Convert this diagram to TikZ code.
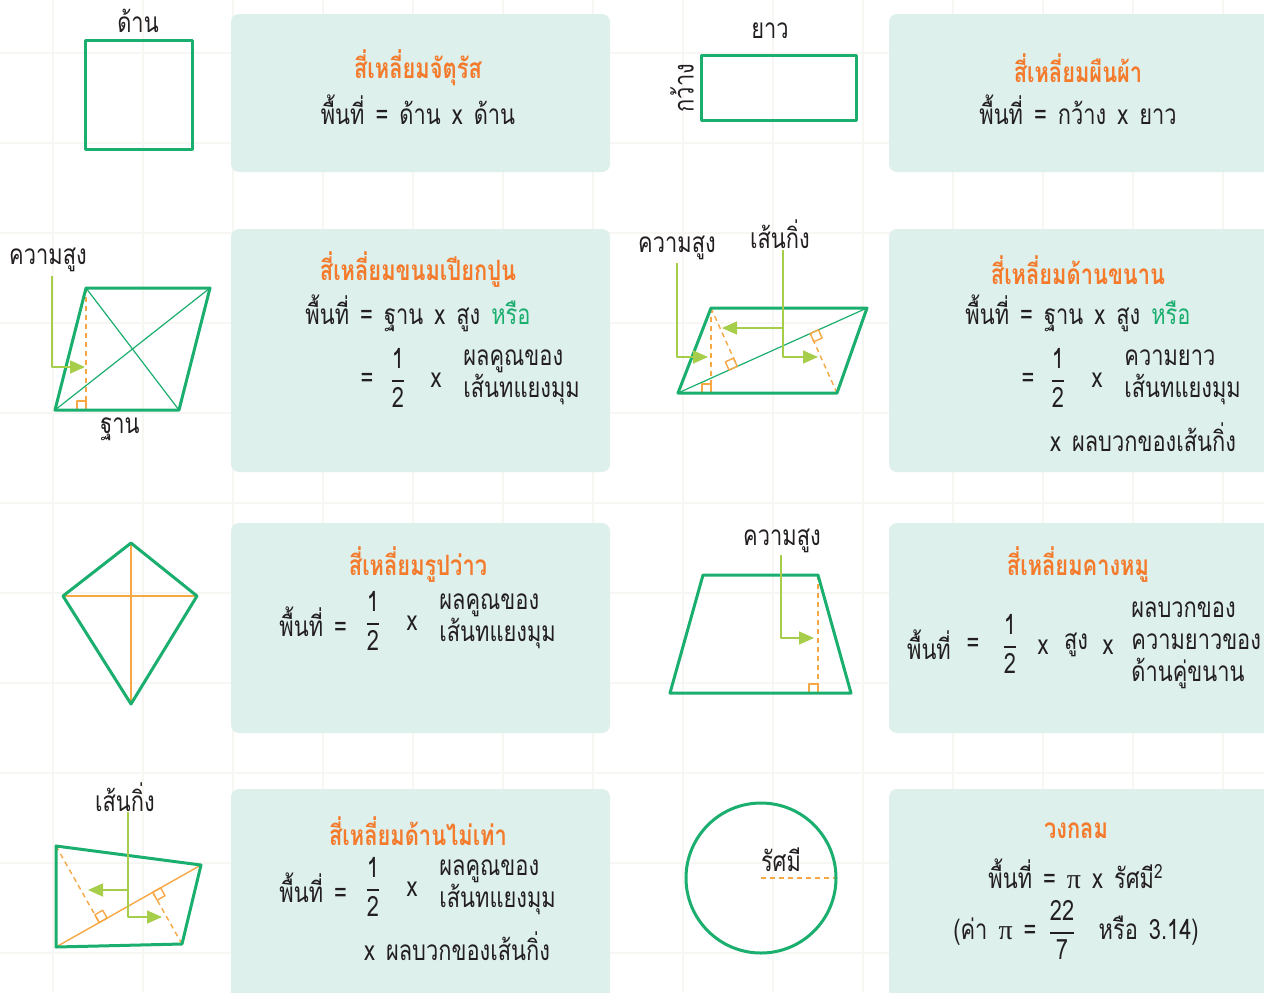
\documentclass[tikz,border=0pt]{standalone}
\usepackage{fontspec}
\usepackage{amsmath}
\newfontfamily\thaifont[Script=Thai, FakeStretch=0.78, WordSpace=1.5]{Loma}
\newfontfamily\pifont{Liberation Serif}
\usetikzlibrary{arrows.meta, calc, positioning}
\definecolor{mGreen}{HTML}{1AAE6F}
\definecolor{mCard}{HTML}{DDF0EC}
\definecolor{mOrange}{HTML}{F47A2C}
\definecolor{mDash}{HTML}{F7A845}
\definecolor{mLime}{HTML}{A6CE4A}
\definecolor{mInk}{HTML}{231F20}
\definecolor{mGrid}{HTML}{F8F6F2}
\tikzset{
  % shape outlines, helper lines and text
  every picture/.append style = {line join=round},
  outline/.style  = {mGreen, line width=1.5pt},
  diag/.style     = {mGreen, line width=0.6pt},
  cross/.style    = {mDash, line width=0.7pt},
  hgt/.style      = {mDash, line width=0.7pt, dash pattern=on 2.5pt off 2pt},
  hgtbox/.style   = {mDash, line width=0.7pt},
  leader/.style   = {mLime, line width=0.8pt, -{Triangle[length=7.5pt, width=6.5pt]}},
  card/.style     = {fill=mCard, rounded corners=4pt},
  gridline/.style = {mGrid, line width=1pt},
  title/.style    = {font=\thaifont\bfseries\fontsize{14}{16}\selectfont, text=mOrange},
  body/.style     = {font=\thaifont\fontsize{14}{16}\selectfont, text=mInk},
  stack/.style    = {body, align=left, inner sep=0pt},
  lbl/.style      = {font=\thaifont\fontsize{14}{16}\selectfont, text=mInk},
}
\newcommand{\half}[2]{$\genfrac{}{}{0.8pt}{0}{\mbox{#1}}{\mbox{#2}}$}
\newcommand{\rmark}[3]{%
  \coordinate (rm1) at ($(#1)!4.5pt!(#2)$);
  \coordinate (rm2) at ($(#1)!4.5pt!(#3)$);
  \draw[hgtbox] (#1) -- (rm1) -- ($(rm1)+(rm2)-(#1)$) -- (rm2) -- cycle;}
\begin{document}
\begin{tikzpicture}[x=0.5pt, y=-0.5pt]
  \useasboundingbox (0,0) rectangle (1264,992);
  % background grid
  \fill[white] (0,0) rectangle (1264,992);
  \foreach \g in {0,...,13}
    \draw[gridline] (53+90*\g,0) -- (53+90*\g,992);
  \foreach \g in {0,...,10}
    \draw[gridline] (0,53+90*\g) -- (1264,53+90*\g);
  % formula cards
  \foreach \t/\b in {14/172, 229/472, 523/733, 789/1010} {
    \fill[card] (231,\t) rectangle (610,\b);
    \fill[card] (889,\t) rectangle (1290,\b);
  }

  % square
  \draw[outline] (85,40) rectangle (192,149);
  \node[lbl] (sqSide) at (138,21) {ด้าน};
  \node[title] (sqTitle) at (418,68) {สี่เหลี่ยมจัตุรัส};
  \node[body] (sqArea) at (418,110) {พื้นที่ = ด้าน x ด้าน};

  % rectangle
  \draw[outline] (701,55) rectangle (856,120);
  \node[lbl] (rcLong) at (770,31) {ยาว};
  \node[lbl, rotate=90] (rcWide) at (682,88) {กว้าง};
  \node[title] (rcTitle) at (1078,68) {สี่เหลี่ยมผืนผ้า};
  \node[body] (rcArea) at (1078,110) {พื้นที่ = กว้าง x ยาว};

  % rhombus
  \coordinate (rhA) at (86,288);
  \coordinate (rhB) at (210,288);
  \coordinate (rhC) at (179,410);
  \coordinate (rhD) at (55,410);
  \coordinate (rhF) at (rhA |- rhD);
  \draw[diag] (rhA) -- (rhC) (rhD) -- (rhB);
  \draw[hgt] (rhA) -- (rhF);
  \rmark{rhF}{rhD}{rhA}
  \draw[outline] (rhA) -- (rhB) -- (rhC) -- (rhD) -- cycle;
  \node[lbl] (rhH) at (48,260) {ความสูง};
  \node[lbl] (rhBase) at (120,429) {ฐาน};
  \coordinate (rhHs) at (52,276);
  \coordinate (rhHt) at (85,367);
  \draw[leader] (rhHs) |- (rhHt);
  \node[title] (rhTitle) at (418,270) {สี่เหลี่ยมขนมเปียกปูน};
  \node[body] (rhArea) at (418,313) {พื้นที่ = ฐาน x สูง \textcolor{mGreen}{หรือ}};
  \node[body] (rhEq) at (367,380) {=};
  \node[body] (rhFrac) at (398,378) {\half{1}{2}};
  \node[body] (rhX) at (436,380) {x};
  \node[stack, anchor=west] (rhDiag) at (463,377) {ผลคูณของ\\เส้นทแยงมุม};

  % parallelogram
  \coordinate (pgA) at (711,308);
  \coordinate (pgB) at (867,308);
  \coordinate (pgC) at (837,393);
  \coordinate (pgD) at (678,393);
  \coordinate (pgF) at (pgA |- pgD);
  \coordinate (pgG) at ($(pgD)!(pgA)!(pgB)$);
  \coordinate (pgK) at ($(pgD)!(pgC)!(pgB)$);
  \draw[diag] (pgD) -- (pgB);
  \draw[hgt] (pgA) -- (pgF);
  \draw[hgt] (pgA) -- (pgG);
  \draw[hgt] (pgC) -- (pgK);
  \rmark{pgF}{pgD}{pgA}
  \rmark{pgG}{pgD}{pgA}
  \rmark{pgK}{pgB}{pgC}
  \draw[outline] (pgA) -- (pgB) -- (pgC) -- (pgD) -- cycle;
  \node[lbl] (pgH) at (677,248) {ความสูง};
  \node[lbl] (pgS) at (780,234) {เส้นกิ่ง};
  \coordinate (pgHs) at (677,263);
  \coordinate (pgHt) at (708,357);
  \coordinate (pgSs) at (783,250);
  \coordinate (pgSl) at (722,328);
  \coordinate (pgSr) at (818,357);
  \draw[leader] (pgHs) |- (pgHt);
  \draw[leader] (pgSs) |- (pgSr);
  \draw[leader] (pgSs |- pgSl) -- (pgSl);
  \node[title] (pgTitle) at (1078,270) {สี่เหลี่ยมด้านขนาน};
  \node[body] (pgArea) at (1078,313) {พื้นที่ = ฐาน x สูง \textcolor{mGreen}{หรือ}};
  \node[body] (pgEq) at (1028,380) {=};
  \node[body] (pgFrac) at (1058,378) {\half{1}{2}};
  \node[body] (pgX) at (1097,380) {x};
  \node[stack, anchor=west] (pgDiag) at (1124,377) {ความยาว\\เส้นทแยงมุม};
  \node[body] (pgSum) at (1143,437) {x ผลบวกของเส้นกิ่ง};

  % kite
  \coordinate (ktA) at (131,543);
  \coordinate (ktB) at (197,596);
  \coordinate (ktC) at (131,704);
  \coordinate (ktD) at (63,596);
  \draw[cross] (ktA) -- (ktC) (ktD) -- (ktB);
  \draw[outline] (ktA) -- (ktB) -- (ktC) -- (ktD) -- cycle;
  \node[title] (ktTitle) at (418,565) {สี่เหลี่ยมรูปว่าว};
  \node[body, anchor=east] (ktArea) at (354,622) {พื้นที่ =};
  \node[body] (ktFrac) at (373,621) {\half{1}{2}};
  \node[body] (ktX) at (412,623) {x};
  \node[stack, anchor=west] (ktDiag) at (439,621) {ผลคูณของ\\เส้นทแยงมุม};

  % trapezoid
  \coordinate (tzA) at (703,575);
  \coordinate (tzB) at (818,575);
  \coordinate (tzC) at (851,693);
  \coordinate (tzD) at (670,693);
  \coordinate (tzF) at (tzB |- tzD);
  \draw[hgt] (tzB) -- (tzF);
  \rmark{tzF}{tzD}{tzB}
  \draw[outline] (tzA) -- (tzB) -- (tzC) -- (tzD) -- cycle;
  \node[lbl] (tzH) at (782,541) {ความสูง};
  \coordinate (tzHs) at (781,555);
  \coordinate (tzHt) at (814,638);
  \draw[leader] (tzHs) |- (tzHt);
  \node[title] (tzTitle) at (1078,565) {สี่เหลี่ยมคางหมู};
  \node[body] (tzArea) at (929,645) {พื้นที่};
  \node[body] (tzEq) at (973,645) {=};
  \node[body] (tzFrac) at (1010,644) {\half{1}{2}};
  \node[body] (tzX) at (1043,647) {x};
  \node[body] (tzTall) at (1076,645) {สูง};
  \node[body] (tzX2) at (1108,647) {x};
  \node[stack, anchor=west] (tzSum) at (1131,645) {ผลบวกของ\\ความยาวของ\\ด้านคู่ขนาน};

  % irregular quadrilateral
  \coordinate (qdA) at (56,846);
  \coordinate (qdB) at (201,865);
  \coordinate (qdC) at (182,944);
  \coordinate (qdD) at (56,947);
  \coordinate (qdF) at ($(qdD)!(qdA)!(qdB)$);
  \coordinate (qdG) at ($(qdD)!(qdC)!(qdB)$);
  \draw[cross] (qdD) -- (qdB);
  \draw[hgt] (qdA) -- (qdF);
  \draw[hgt] (qdC) -- (qdG);
  \rmark{qdF}{qdB}{qdA}
  \rmark{qdG}{qdB}{qdC}
  \draw[outline] (qdA) -- (qdB) -- (qdC) -- (qdD) -- cycle;
  \node[lbl] (qdS) at (125,797) {เส้นกิ่ง};
  \coordinate (qdSs) at (128,812);
  \coordinate (qdSl) at (88,890);
  \coordinate (qdSr) at (162,917);
  \draw[leader] (qdSs) |- (qdSr);
  \draw[leader] (qdSs |- qdSl) -- (qdSl);
  \node[title] (qdTitle) at (418,831) {สี่เหลี่ยมด้านไม่เท่า};
  \node[body, anchor=east] (qdArea) at (354,888) {พื้นที่ =};
  \node[body] (qdFrac) at (373,887) {\half{1}{2}};
  \node[body] (qdX) at (412,889) {x};
  \node[stack, anchor=west] (qdDiag) at (439,887) {ผลคูณของ\\เส้นทแยงมุม};
  \node[body] (qdSum) at (457,946) {x ผลบวกของเส้นกิ่ง};

  % circle
  \coordinate (crO) at (761,878);
  \coordinate (crR) at (836,878);
  \draw[hgt] (crO) -- (crR);
  \draw[outline] (crO) circle[radius=37.5pt];
  \node[lbl] (crLbl) at (781,860) {รัศมี};
  \node[title] (crTitle) at (1076,831) {วงกลม};
  \node[body] (crArea) at (1076,874) {พื้นที่ = {\pifont π} x รัศมี\textsuperscript{2}};
  \node[body] (crPi) at (1076,930) {(ค่า {\pifont π} = \half{22}{7}\ \ หรือ 3.14)};
\end{tikzpicture}
\end{document}
